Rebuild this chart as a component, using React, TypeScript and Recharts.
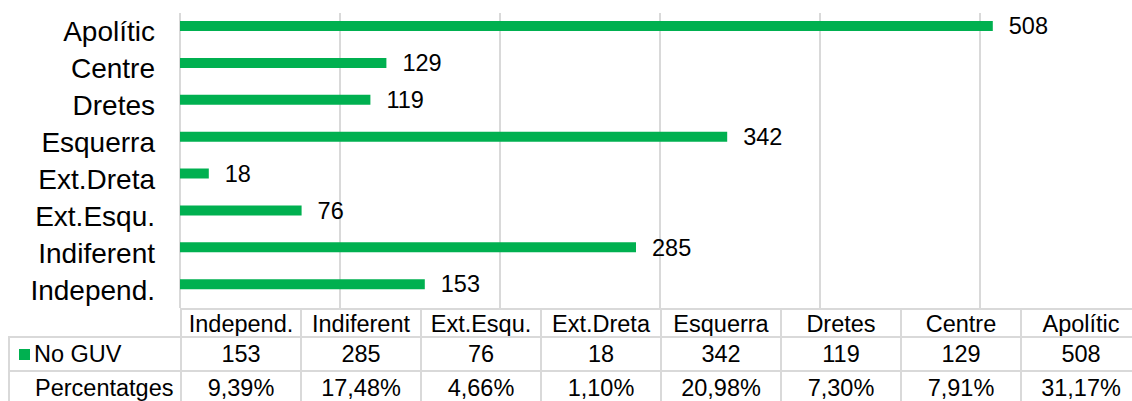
import { BarChart, Bar, XAxis, YAxis, CartesianGrid, LabelList } from "recharts";

const categories = ["Independ.", "Indiferent", "Ext.Esqu.", "Ext.Dreta", "Esquerra", "Dretes", "Centre", "Apolític"];
const noGuv = [153, 285, 76, 18, 342, 119, 129, 508];
const percentatges = [9.39, 17.48, 4.66, 1.1, 20.98, 7.3, 7.91, 31.17];
const valueTicks = [0, 100, 200, 300, 400, 500, 600];

const GREEN = "#00B050";
const GRID = "#d9d9d9";
const FONT = "'Liberation Sans', Arial, sans-serif";

const CHART_W = 1140;
const CHART_H = 401;
const PLOT_LEFT = 180;
const PLOT_TOP = 13;
const PLOT_BOTTOM = 308;

const fmtPct = (v: number) => v.toFixed(2).replace(".", ",") + "%";

export default function App() {
  const data = categories.map((name, i) => ({
    name,
    guv: noGuv[i],
    pct: percentatges[i] / 100,
  }));

  const colW = (CHART_W - PLOT_LEFT) / categories.length;
  const rows = [
    { top: PLOT_BOTTOM, height: 28 },
    { top: 336, height: 34 },
    { top: 370, height: 40 },
  ];

  const cell = (left: number, top: number, width: number, height: number, extra = {}) => ({
    position: "absolute" as const,
    left,
    top,
    width,
    height,
    boxSizing: "border-box" as const,
    borderLeft: `2px solid ${GRID}`,
    borderTop: `2px solid ${GRID}`,
    display: "flex",
    alignItems: "center",
    justifyContent: "center",
    fontSize: 23.5,
    color: "#000",
    whiteSpace: "nowrap" as const,
    ...extra,
  });

  return (
    <div style={{ position: "absolute", left: 0, top: 0, width: 1132, height: 401, overflow: "hidden", background: "#fff", fontFamily: FONT }}>
      <BarChart
        width={CHART_W}
        height={CHART_H}
        data={data}
        layout="vertical"
        margin={{ top: PLOT_TOP, right: 0, left: 0, bottom: CHART_H - PLOT_BOTTOM }}
        barSize={10}
        barGap={0}
      >
        <CartesianGrid horizontal={false} stroke={GRID} strokeWidth={2} />
        <XAxis type="number" domain={[0, 600]} ticks={valueTicks} hide />
        <YAxis
          type="category"
          dataKey="name"
          reversed
          width={PLOT_LEFT}
          axisLine={false}
          tickLine={false}
          tickMargin={19}
          tick={{ fontSize: 28, fill: "#000", fontFamily: FONT }}
          interval={0}
        />
        <Bar dataKey="guv" name="No GUV" fill={GREEN} isAnimationActive={false}>
          <LabelList dataKey="guv" position="right" offset={16} style={{ fontSize: 23.5, fill: "#000", fontFamily: FONT }} />
        </Bar>
        <Bar dataKey="pct" name="Percentatges" fill="transparent" isAnimationActive={false} />
      </BarChart>

      {categories.map((c, i) => (
        <div key={"h" + c} style={cell(PLOT_LEFT + i * colW, rows[0].top, colW, rows[0].height, { paddingTop: 2 })}>{c}</div>
      ))}

      <div style={cell(8, rows[1].top, PLOT_LEFT - 8, rows[1].height, { justifyContent: "flex-start", paddingLeft: 9 })}>
        <span style={{ display: "inline-block", width: 11, height: 11, background: GREEN, marginRight: 4 }} />
        No GUV
      </div>
      {noGuv.map((v, i) => (
        <div key={"g" + i} style={cell(PLOT_LEFT + i * colW, rows[1].top, colW, rows[1].height)}>{v}</div>
      ))}

      <div style={cell(8, rows[2].top, PLOT_LEFT - 8, rows[2].height, { justifyContent: "flex-start", paddingLeft: 25, alignItems: "flex-start", paddingTop: 3 })}>
        Percentatges
      </div>
      {percentatges.map((v, i) => (
        <div key={"p" + i} style={cell(PLOT_LEFT + i * colW, rows[2].top, colW, rows[2].height, { alignItems: "flex-start", paddingTop: 3 })}>{fmtPct(v)}</div>
      ))}
    </div>
  );
}
